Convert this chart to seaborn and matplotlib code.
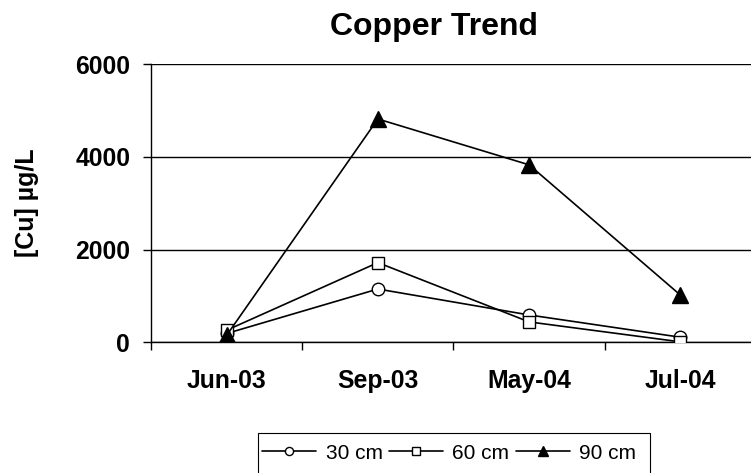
import pandas as pd
import seaborn as sns
import matplotlib.pyplot as plt
from matplotlib.patches import Rectangle
from matplotlib.ticker import FixedLocator

# sampling dates and copper concentration (ug/L) per depth
dates = ['Jun-03', 'Sep-03', 'May-04', 'Jul-04']
cu_30cm = [190, 1150, 590, 110]
cu_60cm = [260, 1720, 440, 10]
cu_90cm = [150, 4820, 3830, 1020]
depths = ['30 cm', '60 cm', '90 cm']

sns.set_style("white")
plt.rcParams['font.family'] = ['Liberation Sans', 'DejaVu Sans']
plt.rcParams.update({'text.color': 'black', 'axes.labelcolor': 'black',
                     'xtick.color': 'black', 'ytick.color': 'black'})

fig = plt.figure(figsize=(7.51, 4.73), dpi=100)
ax = fig.add_axes([151 / 751, 1 - 342.3 / 473, 600 / 751, (342.3 - 64.3) / 473])

styles = {
    '30 cm': dict(marker='o', markersize=9, markerfacecolor='white'),
    '60 cm': dict(marker='s', markersize=8.5, markerfacecolor='white'),
    '90 cm': dict(marker='^', markersize=11, markerfacecolor='black'),
}

for name, vals in zip(depths, [cu_30cm, cu_60cm, cu_90cm]):
    sns.lineplot(x=dates, y=vals, ax=ax, sort=False, color='black', linewidth=1.2,
                 markeredgecolor='black', markeredgewidth=1.0, label=name,
                 zorder=3, **styles[name])

ax.set_xlim(-0.5, 3.467)
ax.set_ylim(0, 6000)
ax.set_yticks([0, 2000, 4000, 6000])
ax.yaxis.grid(True, color='black', linewidth=1.0)
ax.set_axisbelow(True)

# category ticks between labels
ax.xaxis.set_minor_locator(FixedLocator([-0.5, 0.5, 1.5, 2.5]))
ax.tick_params(axis='x', which='major', length=0, pad=19, labelsize=17.8)
ax.tick_params(axis='x', which='minor', length=6, width=1, color='black', direction='out')
ax.tick_params(axis='y', length=6, width=1, color='black', direction='out', pad=9, labelsize=17.8)
ax.xaxis.set_ticks_position('bottom')
ax.yaxis.set_ticks_position('left')
for lab in ax.get_xticklabels() + ax.get_yticklabels():
    lab.set_fontweight('bold')

for side in ['top', 'right']:
    ax.spines[side].set_visible(False)
for side in ['left', 'bottom']:
    ax.spines[side].set_color('black')
    ax.spines[side].set_linewidth(1.0)

ax.set_xlabel('')
ax.set_ylabel('')
fig.text(27.5 / 751, 1 - 202.5 / 473, '[Cu] µg/L', rotation=90, ha='center', va='center',
         fontsize=18, fontweight='bold')
fig.text(434 / 751, 1 - 35 / 473, 'Copper Trend', ha='center', va='baseline',
         fontsize=23, fontweight='bold')

# legend box runs off the bottom edge, like the original
handles, labels = ax.get_legend_handles_labels()
fig.legend(handles, labels, loc='center left', bbox_to_anchor=(262 / 751, 1 - 453 / 473),
           ncol=3, fontsize=15.0, frameon=False, markerscale=0.65, handlelength=2.6,
           handletextpad=0.45, columnspacing=0.3, borderpad=0, borderaxespad=0)
fig.patches.append(Rectangle((258 / 751, -0.05), 392 / 751, 0.05 + 40 / 473,
                             transform=fig.transFigure, fill=False, edgecolor='black',
                             linewidth=0.8))
if ax.get_legend():
    ax.get_legend().remove()

fig.savefig('out.png', dpi=100)
